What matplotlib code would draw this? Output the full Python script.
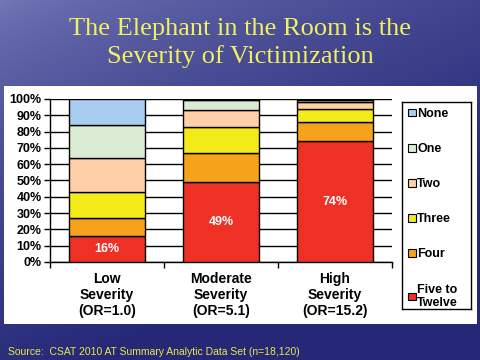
import numpy as np
import matplotlib
matplotlib.use("Agg")
import matplotlib.pyplot as plt
from matplotlib.patches import Rectangle, Patch

categories = ["Low\nSeverity\n(OR=1.0)", "Moderate\nSeverity\n(OR=5.1)", "High\nSeverity\n(OR=15.2)"]
series_names = ["Five to\nTwelve", "Four", "Three", "Two", "One", "None"]
five_to_twelve = [16, 49, 74]
four = [11, 18, 12]
three = [16, 16, 8]
two = [21, 10, 4]
one = [20, 6.5, 1.5]
none = [16, 0.5, 0.5]
bar_labels = ["16%", "49%", "74%"]
yticks = list(range(0, 101, 10))
ytick_labels = [f"{v}%" for v in yticks]
title = "The Elephant in the Room is the\nSeverity of Victimization"
source = "Source:  CSAT 2010 AT Summary Analytic Data Set (n=18,120)"

colors = ["#EE3124", "#F7A21B", "#F2EA19", "#FFD0A8", "#DCEBD4", "#A8CDF0"]
series = [five_to_twelve, four, three, two, one, none]

W, H = 480, 360
fig = plt.figure(figsize=(W / 100, H / 100), dpi=100)

# background gradient
bg = fig.add_axes([0, 0, 1, 1], zorder=-10)
bg.set_axis_off()
xx, yy = np.meshgrid(np.linspace(0, 1, 200), np.linspace(0, 1, 150))
light = np.array([0.45, 0.47, 0.72])
dark = np.array([0.15, 0.16, 0.47])
t = np.clip(0.55 * xx + 0.9 * yy, 0, 1) ** 0.7
img = light[None, None, :] * (1 - t[..., None]) + dark[None, None, :] * t[..., None]
bg.imshow(img, extent=[0, 1, 0, 1], aspect="auto", origin="upper")
bg.set_xlim(0, 1)
bg.set_ylim(0, 1)
# white panel
bg.add_patch(Rectangle((4 / W, 1 - 324 / H), 473 / W, 238 / H,
                       facecolor="white", edgecolor="none", zorder=2))

fig.text(0.5, 1 - 43 / H, title, ha="center", va="center", color="#F2F060",
         fontsize=19, family="Liberation Serif", linespacing=1.27)
fig.text(8 / W, 1 - 352 / H, source, ha="left", va="center", color="#E8E84A",
         fontsize=7.5, family="Liberation Sans")

ax = fig.add_axes([50 / W, 1 - 262 / H, 342 / W, 163 / H])
ax.set_facecolor("white")
x = np.arange(len(categories))
bottom = np.zeros(len(categories))
for vals, c in zip(series, colors):
    ax.bar(x, vals, bottom=bottom, width=0.66, color=c, edgecolor="black",
           linewidth=1.0, zorder=3)
    bottom += np.array(vals)

for xi, v, lab in zip(x, five_to_twelve, bar_labels):
    ax.text(xi, v / 2, lab, ha="center", va="center", color="white",
            fontsize=9, fontweight="bold", family="Liberation Sans", zorder=4)

ax.set_xlim(-0.5, len(categories) - 0.5)
ax.set_ylim(0, 100)
ax.set_yticks(yticks)
ax.set_yticklabels(ytick_labels, fontsize=9, fontweight="bold", family="Liberation Sans")
ax.yaxis.grid(True, color="black", linewidth=1.0, zorder=0)
ax.set_axisbelow(True)
ax.tick_params(axis="y", length=4, width=1, pad=2, direction="out")
ax.set_xticks(x)
ax.set_xticklabels(categories, fontsize=10, fontweight="bold", family="Liberation Sans",
                   linespacing=1.2)
ax.set_xticks(np.arange(-0.5, len(categories)), minor=True)
ax.tick_params(axis="x", which="major", length=0, pad=7)
ax.tick_params(axis="x", which="minor", length=4, width=1, direction="out")
for s in ["top", "right"]:
    ax.spines[s].set_visible(False)
ax.spines["left"].set_linewidth(1.0)
ax.spines["bottom"].set_linewidth(1.0)

# legend box
lax = fig.add_axes([402 / W, 1 - 309 / H, 69 / W, 207 / H])
lax.set_xticks([])
lax.set_yticks([])
for s in lax.spines.values():
    s.set_linewidth(1.0)
    s.set_color("black")
handles = [Patch(facecolor=c, edgecolor="black", linewidth=0.8) for c in colors][::-1]
labels = series_names[::-1]
leg = lax.legend(handles, labels, loc="center left", bbox_to_anchor=(0, 0.485),
                 frameon=False,
                 prop={"family": "Liberation Sans", "weight": "bold", "size": 9},
                 handlelength=0.6, handleheight=0.6, handletextpad=0.1,
                 labelspacing=1.85, borderaxespad=0.1)

fig.savefig("out.png", dpi=100)
